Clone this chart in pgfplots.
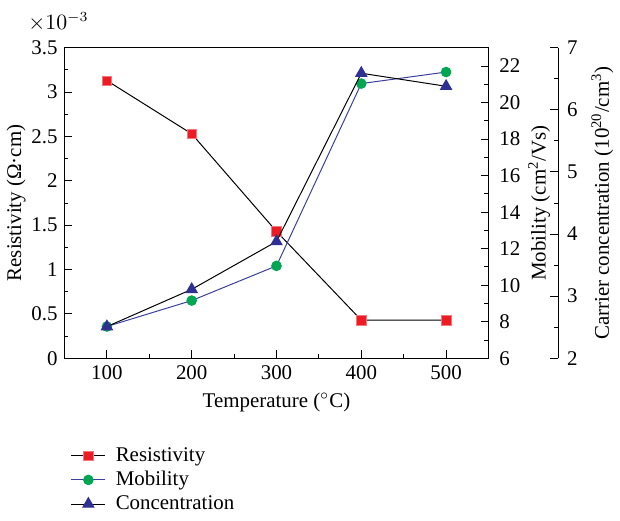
\documentclass[border=0pt]{standalone}
\usepackage{pgfplots}
\pgfplotsset{compat=1.18}
\usepackage{fontspec}
\setmainfont{Liberation Serif}

\definecolor{resred}{HTML}{ED1C24}
\definecolor{mobgreen}{HTML}{00A651}
\definecolor{connavy}{HTML}{2E3192}
\definecolor{mobline}{HTML}{3B3F9E}

% temperature (C) vs resistivity (1e-3 Ohm cm), mobility (cm^2/Vs), concentration (1e20/cm^3)
\pgfplotstableread{
T    res   mob    con
100  3.13  7.74   2.51
200  2.53  9.16   3.11
300  1.43  11.06  3.88
400  0.43  21.04  6.59
500  0.43  21.67  6.38
}\data

\pgfplotsset{
  common/.style={
    width=213pt, height=156pt, scale only axis,
    xmin=50, xmax=550,
    tick align=inside,
    major tick length=4pt, minor tick length=2pt,
    tick style={black, line width=0.5pt},
    axis line style={line width=0.6pt},
    /pgf/number format/assume math mode=true,
    tick label style={font=\fontsize{10.5}{12}\selectfont},
    label style={font=\fontsize{10.5}{12}\selectfont},
  },
}

\begin{document}
\begin{tikzpicture}
\begin{axis}[common, name=main,
  ymin=0, ymax=3.5,
  ytick={0,0.5,...,3.5}, minor y tick num=1,
  yticklabels={0,0.5,1,1.5,2,2.5,3,3.5},
  xtick={100,200,300,400,500}, minor x tick num=1,
  xtick pos=bottom, ytick pos=left,
  xlabel={Temperature ($^\circ$C)},
  ylabel={Resistivity (Ω·cm)},
  ylabel style={yshift=-4pt},
  legend style={at={(0,-0.26)}, anchor=north west, draw=none, fill=none,
    font=\fontsize{10.5}{12}\selectfont, row sep=-0.5pt, column sep=3pt},
  legend cell align=left,
]
\addplot[black, line width=0.5pt, mark=square*, mark size=2.4pt,
  mark options={fill=resred, draw=resred!60!white, line width=0.3pt}]
  table[x=T, y=res] {\data};
\addlegendentry{Resistivity}
\addlegendimage{mobline, line width=0.5pt, mark=*, mark size=2.4pt,
  mark options={fill=mobgreen, draw=mobgreen}}
\addlegendentry{Mobility}
\addlegendimage{black, line width=0.5pt, mark=triangle*, mark size=3.2pt,
  mark options={fill=connavy, draw=connavy}}
\addlegendentry{Concentration}
\end{axis}
\node[anchor=south, inner sep=1pt] at ([xshift=-3pt, yshift=7pt]main.north west)
  {\fontsize{10.5}{12}\selectfont $\times10^{-3}$};
\path (main.north west) ++(0,24pt) coordinate (topmargin);
\path (topmargin) rectangle (topmargin);

\begin{axis}[common,
  axis x line=none, axis y line*=right,
  ymin=6, ymax=23,
  ytick={6,8,...,22}, minor y tick num=1,
  yticklabel style={xshift=2pt},
  ylabel={Mobility (cm\textsuperscript{2}/Vs)},
  ylabel style={yshift=3pt},
]
\addplot[mobline, line width=0.5pt, mark=*, mark size=2.4pt,
  mark options={fill=mobgreen, draw=mobgreen}]
  table[x=T, y=mob] {\data};
\end{axis}

\begin{axis}[common,
  width=248pt, xmin=50, xmax=632.16,
  axis x line=none, axis y line*=right,
  ymin=2, ymax=7,
  ytick={2,...,7}, minor y tick num=1,
  yticklabel style={xshift=1pt},
  ylabel={Carrier concentration (10\textsuperscript{20}/cm\textsuperscript{3})},
]
\addplot[black, line width=0.5pt, mark=triangle*, mark size=3.2pt,
  mark options={fill=connavy, draw=connavy}]
  table[x=T, y=con] {\data};
\end{axis}
\end{tikzpicture}
\end{document}
